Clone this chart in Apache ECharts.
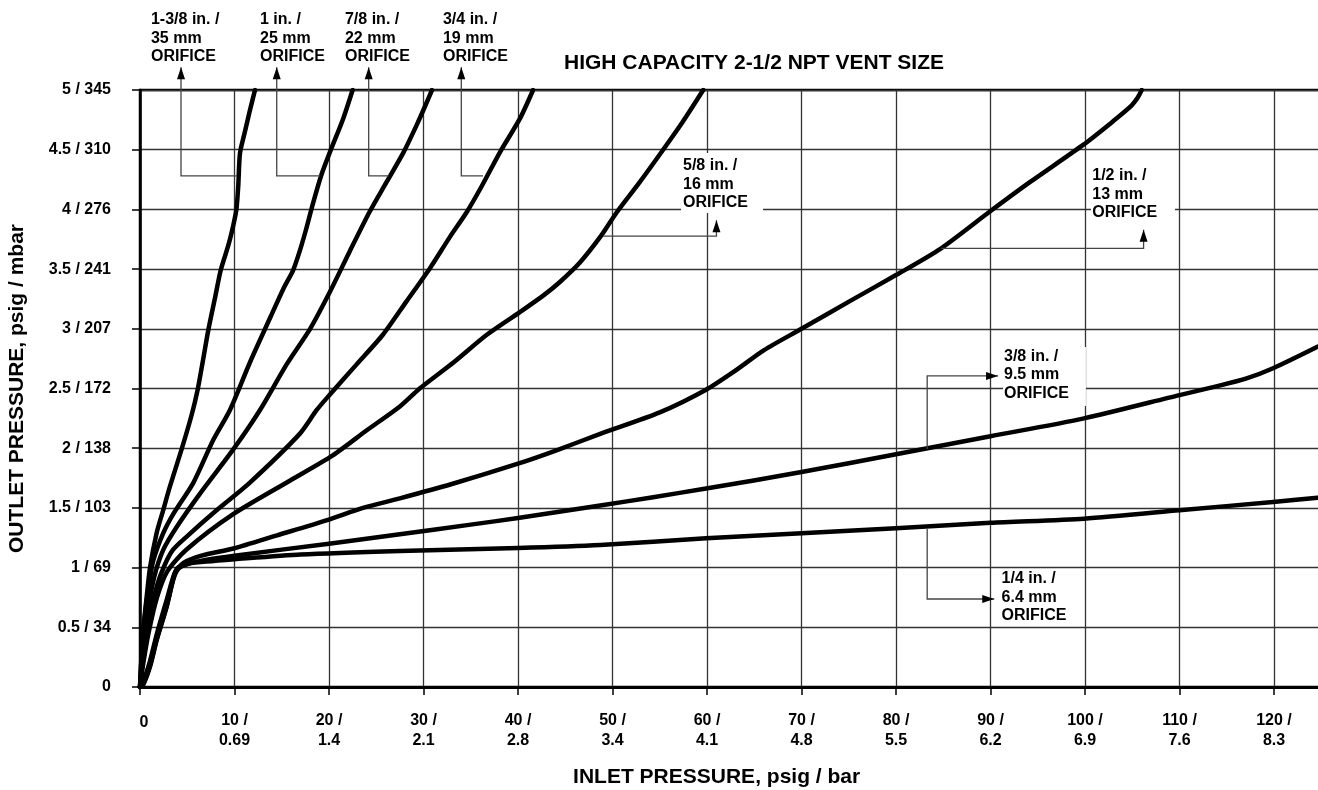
<!DOCTYPE html>
<html>
<head>
<meta charset="utf-8">
<title>High Capacity 2-1/2 NPT Vent Size</title>
<script src="https://cdn.jsdelivr.net/npm/echarts@6/dist/echarts.min.js"></script>
<style>
  html, body { margin: 0; padding: 0; background: #fff; }
  #chart { width: 1318px; height: 790px; }
</style>
</head>
<body>
<div id="chart"></div>
<script>
// inlet psig (x) vs outlet psig (y)
const orifice1_3_8 = [[0,0],[0.3,0.45],[0.7,0.75],[1.06,1.0],[1.76,1.29],[2.45,1.48],[3.17,1.68],[4.4,1.99],[5.47,2.28],[6.1,2.49],[6.63,2.72],[7.23,2.99],[7.94,3.26],[8.54,3.49],[9.35,3.7],[9.88,3.87],[10.2,4.0],[10.4,4.2],[10.58,4.47],[11.1,4.65],[11.6,4.82],[12.17,5.0]];
const orifice1 = [[0,0],[0.25,0.35],[0.6,0.65],[1.0,0.88],[1.41,1.06],[2.47,1.29],[3.53,1.45],[5.64,1.71],[7.76,2.07],[9.52,2.32],[11.64,2.72],[13.76,3.09],[15.2,3.34],[16.2,3.49],[16.9,3.65],[17.6,3.84],[18.27,4.04],[19.2,4.29],[20.1,4.48],[21.5,4.76],[22.5,5.0]];
const orifice7_8 = [[0,0],[0.3,0.3],[0.8,0.62],[1.5,0.92],[2.47,1.15],[3.88,1.34],[6.35,1.62],[9.87,1.99],[12.7,2.32],[15.5,2.7],[18.0,3.0],[20.1,3.31],[22.2,3.65],[24.3,3.98],[26.1,4.23],[27.9,4.48],[29.3,4.71],[30.2,4.87],[30.9,5.0]];
const orifice3_4 = [[0,0],[0.35,0.25],[0.9,0.55],[1.8,0.85],[2.6,1.02],[3.5,1.15],[4.94,1.26],[8.1,1.48],[11.6,1.71],[16.9,2.12],[18.7,2.32],[20.1,2.45],[22.9,2.7],[25.7,2.95],[28.2,3.23],[30.7,3.51],[32.8,3.77],[34.6,3.98],[36.2,4.2],[38.1,4.48],[40.2,4.76],[41.6,5.0]];
const orifice5_8 = [[0,0],[0.35,0.2],[0.9,0.45],[1.8,0.75],[2.9,0.97],[4.9,1.15],[9.9,1.45],[15.9,1.73],[20.4,1.94],[24.0,2.15],[27.5,2.35],[29.6,2.5],[33.2,2.72],[36.7,2.95],[40.2,3.14],[42.7,3.28],[44.4,3.39],[46.6,3.56],[48.8,3.78],[50.4,3.97],[52.8,4.22],[55.0,4.46],[57.4,4.73],[59.6,5.0]];
const orifice1_2 = [[0,0],[0.35,0.05],[1.0,0.2],[1.8,0.45],[2.9,0.75],[3.7,0.96],[4.6,1.04],[6.5,1.1],[9.9,1.16],[14.5,1.27],[19.9,1.4],[23.6,1.5],[27.5,1.58],[33,1.7],[40,1.87],[44,1.98],[48.7,2.12],[55,2.3],[59.9,2.49],[63,2.65],[66,2.82],[70,3.0],[75.3,3.24],[80,3.45],[84.7,3.67],[89.9,3.98],[94.2,4.23],[99.8,4.54],[103,4.74],[104.8,4.86],[105.6,4.94],[106,5.0]];
const orifice3_8 = [[0,0],[0.35,0.03],[1.06,0.18],[1.76,0.4],[2.82,0.68],[3.6,0.92],[4.2,1.0],[6,1.05],[10,1.1],[20,1.2],[27.5,1.28],[35,1.36],[40,1.415],[48.7,1.52],[54.3,1.59],[59.9,1.662],[70,1.8],[80,1.95],[90,2.1],[99.9,2.25],[110,2.445],[114,2.52],[117.1,2.585],[119.9,2.67],[124.6,2.85]];
const orifice1_4 = [[0,0],[0.35,0.02],[1.06,0.17],[1.76,0.39],[2.82,0.67],[3.5,0.9],[3.9,0.99],[5,1.03],[7,1.05],[10,1.07],[17,1.11],[27.5,1.14],[40,1.165],[48.7,1.19],[59.9,1.245],[70,1.287],[80,1.33],[90,1.376],[99.9,1.41],[110,1.48],[119.9,1.55],[124.6,1.585]];

const curveNames = ['1-3/8 in.', '1 in.', '7/8 in.', '3/4 in.', '5/8 in.', '1/2 in.', '3/8 in.', '1/4 in.'];
const curves = [orifice1_3_8, orifice1, orifice7_8, orifice3_4, orifice5_8, orifice1_2, orifice3_8, orifice1_4];

const xTickLabels = ['0', '10 /\n0.69', '20 /\n1.4', '30 /\n2.1', '40 /\n2.8', '50 /\n3.4', '60 /\n4.1',
  '70 /\n4.8', '80 /\n5.5', '90 /\n6.2', '100 /\n6.9', '110 /\n7.6', '120 /\n8.3'];
const yTickLabels = ['0', '0.5 / 34', '1 / 69', '1.5 / 103', '2 / 138', '2.5 / 172', '3 / 207',
  '3.5 / 241', '4 / 276', '4.5 / 310', '5 / 345'];

// callout texts, their top-left anchor (psig units) and leader paths (curve -> elbow -> arrow tip)
const calloutTexts = ['1-3/8 in. /\n35 mm\nORIFICE', '1 in. /\n25 mm\nORIFICE', '7/8 in. /\n22 mm\nORIFICE',
  '3/4 in. /\n19 mm\nORIFICE', '5/8 in. /\n16 mm\nORIFICE', '1/2 in. /\n13 mm\nORIFICE',
  '3/8 in. /\n9.5 mm\nORIFICE', '1/4 in. /\n6.4 mm\nORIFICE'];
const calloutAnchors = [[1.16, 5.666], [12.7, 5.666], [21.69, 5.666], [32.06, 5.666],
  [57.46, 4.443], [100.77, 4.359], [91.43, 2.846], [91.17, 0.982]];
const leaderPaths = [
  [[10.25, 4.28], [4.34, 4.28], [4.34, 5.19]],
  [[19.05, 4.28], [14.47, 4.28], [14.47, 5.19]],
  [[26.3, 4.28], [24.2, 4.28], [24.2, 5.19]],
  [[36.3, 4.28], [34.0, 4.28], [34.0, 5.19]],
  [[49.0, 3.777], [61.0, 3.777], [61.0, 3.91]],
  [[84.8, 3.674], [106.2, 3.674], [106.2, 3.83]],
  [[83.3, 1.993], [83.3, 2.605], [90.8, 2.605]],
  [[83.3, 1.329], [83.3, 0.737], [90.4, 0.737]]
];
// white knock-outs behind callouts sitting on the grid: [x0, x1, yTop, yBottom]
const calloutBoxes = [[57.25, 65.93, 4.472, 3.97], [100.63, 109.52, 4.38, 3.895], [91.32, 100.1, 2.848, 2.353]];

const FONT = "'Liberation Sans', Arial, Helvetica, sans-serif";
const labelFont = { fontFamily: FONT, fontSize: 16, fontWeight: 'bold', color: '#000' };

const chart = echarts.init(document.getElementById('chart'), null, { renderer: 'canvas' });

const option = {
  animation: false,
  backgroundColor: '#fff',
  title: {
    text: 'HIGH CAPACITY 2-1/2 NPT VENT SIZE',
    left: 564,
    top: 53,
    padding: 0,
    textStyle: { fontFamily: FONT, fontSize: 21, fontWeight: 'bold', color: '#000' }
  },
  grid: {
    left: 140,
    top: 90,
    right: -3.25,
    bottom: 103,
    show: true,
    borderColor: '#000',
    borderWidth: 2.5,
    outerBoundsMode: 'none'
  },
  xAxis: {
    type: 'value',
    min: 0,
    max: 125,
    interval: 10,
    name: 'INLET PRESSURE, psig / bar',
    nameLocation: 'middle',
    nameGap: 80,
    nameTextStyle: { fontFamily: FONT, fontSize: 21, fontWeight: 'bold', color: '#000', padding: [0, 28, 0, 0] },
    axisLine: { show: true, lineStyle: { color: '#000', width: 3 } },
    axisTick: { show: true, length: 8, lineStyle: { color: '#000', width: 1.5 } },
    axisLabel: {
      margin: 24,
      ...labelFont,
      lineHeight: 20,
      rich: { zero: { ...labelFont, padding: [4, 0, 0, 8] } },
      formatter: v => {
        if (v === 0) return '{zero|' + xTickLabels[0] + '}';
        return v % 10 === 0 && v <= 120 ? xTickLabels[v / 10] : '';
      }
    },
    splitLine: { show: true, lineStyle: { color: '#333', width: 1.3 } }
  },
  yAxis: {
    type: 'value',
    min: 0,
    max: 5,
    interval: 0.5,
    name: 'OUTLET PRESSURE, psig / mbar',
    nameLocation: 'middle',
    nameGap: 112,
    nameTextStyle: { fontFamily: FONT, fontSize: 21, fontWeight: 'bold', color: '#000' },
    axisLine: { show: true, lineStyle: { color: '#000', width: 2.5 } },
    axisTick: { show: true, length: 8, lineStyle: { color: '#000', width: 1.5 } },
    axisLabel: {
      margin: 29,
      ...labelFont,
      formatter: v => yTickLabels[Math.round(v / 0.5)]
    },
    splitLine: { show: true, lineStyle: { color: '#333', width: 1.3 } }
  },
  series: curves.map((data, i) => ({
    name: curveNames[i],
    type: 'line',
    data: data,
    smooth: 0.25,
    symbol: 'none',
    clip: true,
    lineStyle: { color: '#000', width: 4.5, cap: 'round', join: 'round' },
    z: 3
  }))
};

chart.setOption(option);

function toPx(p) {
  return chart.convertToPixel({ seriesIndex: 0 }, p);
}

const graphics = [];

calloutBoxes.forEach(b => {
  const a = toPx([b[0], b[2]]);
  const c = toPx([b[1], b[3]]);
  graphics.push({
    type: 'rect', z: 10, silent: true,
    shape: { x: a[0], y: a[1], width: c[0] - a[0], height: c[1] - a[1] },
    style: { fill: '#fff' }
  });
});

leaderPaths.forEach(path => {
  const pts = path.map(toPx);
  graphics.push({
    type: 'polyline', z: 11, silent: true,
    shape: { points: pts },
    style: { stroke: '#444', lineWidth: 1.3, fill: null }
  });
  const tip = pts[pts.length - 1];
  const prev = pts[pts.length - 2];
  const dx = tip[0] - prev[0], dy = tip[1] - prev[1];
  const len = Math.hypot(dx, dy);
  const ux = dx / len, uy = dy / len;
  const bx = tip[0] - ux * 12, by = tip[1] - uy * 12;
  graphics.push({
    type: 'polygon', z: 12, silent: true,
    shape: { points: [tip, [bx - uy * 4, by + ux * 4], [bx + uy * 4, by - ux * 4]] },
    style: { fill: '#000' }
  });
});

calloutTexts.forEach((t, i) => {
  const p = toPx(calloutAnchors[i]);
  graphics.push({
    type: 'text', z: 12, silent: true,
    x: p[0], y: p[1],
    style: {
      text: t,
      fontFamily: FONT,
      fontSize: 16,
      fontWeight: 'bold',
      fill: '#000',
      lineHeight: 18.5,
      align: 'left',
      verticalAlign: 'top'
    }
  });
});

chart.setOption({ graphic: graphics });
</script>
</body>
</html>
